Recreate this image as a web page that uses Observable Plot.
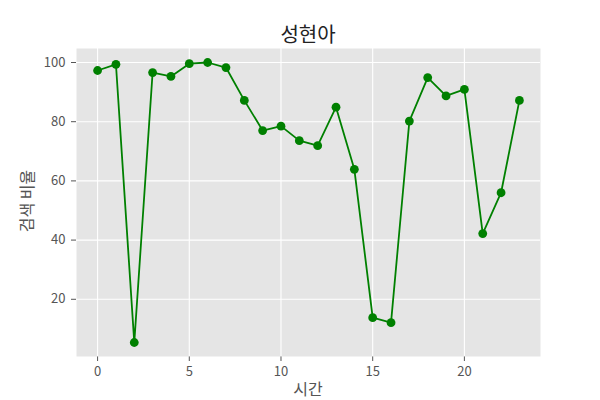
<!DOCTYPE html>
<html>
<head>
<meta charset="utf-8">
<script src="https://cdn.jsdelivr.net/npm/d3@7"></script>
<script src="https://cdn.jsdelivr.net/npm/@observablehq/plot@0.6"></script>
<style>
  html, body { margin: 0; padding: 0; background: white; }
  #wrap { position: relative; width: 600px; height: 400px; font-family: "Noto Sans CJK KR", "Noto Sans", sans-serif; }
  .lbl { position: absolute; white-space: nowrap; line-height: 1; }
  #title { left: 308px; top: 24px; transform: translateX(-50%); font-size: 20px; color: #222; }
  #xlab { left: 308px; top: 380px; transform: translateX(-50%); font-size: 16px; color: #555; }
  #ylab { left: 25.5px; top: 200.5px; transform: translate(-50%, -50%) rotate(-90deg); font-size: 16px; color: #555; }
  svg { position: absolute; left: 0; top: 0; }
  #wrap svg text { font-size: 13px !important; fill: #555; }
</style>
</head>
<body>
<div id="wrap">
  <div id="title" class="lbl">성현아</div>
  <div id="xlab" class="lbl">시간</div>
  <div id="ylab" class="lbl">검색 비율</div>
</div>
<script>
const hours = [0,1,2,3,4,5,6,7,8,9,10,11,12,13,14,15,16,17,18,19,20,21,22,23];
const ratio = [97.3,99.4,5.4,96.6,95.3,99.6,100.0,98.3,87.2,77.0,78.5,73.6,71.9,84.9,63.9,13.8,12.1,80.2,94.9,88.7,90.9,42.2,56.0,87.2];
const xTicks = [0,5,10,15,20];
const yTicks = [20,40,60,80,100];

const data = hours.map((h, i) => ({hour: h, value: ratio[i]}));

const chart = Plot.plot({
  width: 600,
  height: 400,
  marginTop: 48,
  marginBottom: 44,
  marginLeft: 76,
  marginRight: 60,
  style: {fontFamily: "'Noto Sans CJK KR', 'Noto Sans', sans-serif", fontSize: "13px", color: "#555", background: "transparent"},
  x: {domain: [-1.15, 24.15], ticks: xTicks, tickSize: 5, tickPadding: 5, label: null},
  y: {domain: [0.67, 104.73], ticks: yTicks, tickSize: 5, tickPadding: 6, label: null},
  marks: [
    Plot.frame({fill: "#e5e5e5", stroke: "none"}),
    Plot.ruleX(xTicks, {stroke: "white", strokeWidth: 1.1}),
    Plot.ruleY(yTicks, {stroke: "white", strokeWidth: 1.1}),
    Plot.line(data, {x: "hour", y: "value", stroke: "#008000", strokeWidth: 1.8}),
    Plot.dot(data, {x: "hour", y: "value", fill: "#008000", r: 4.4})
  ]
});
document.getElementById("wrap").appendChild(chart);
</script>
</body>
</html>
